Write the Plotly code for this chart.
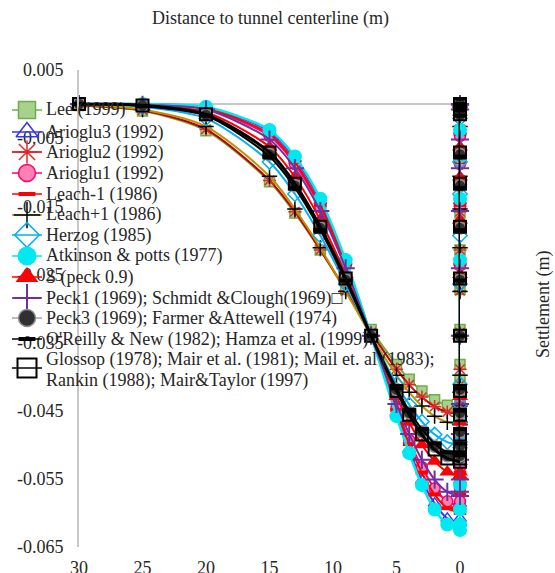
import plotly.graph_objects as go

W, H = 555, 573

# ---------------- data ----------------
distance = [30, 25, 20, 15, 13, 11, 9, 7, 5, 4, 3, 2, 1, 0]

lee_1999 = [-0.0002, -0.0010, -0.0039, -0.0114, -0.0160, -0.0214, -0.0272, -0.0331, -0.0382, -0.0404, -0.0421, -0.0434, -0.0442, -0.0445]
arioglu3 = [0.0, -0.0000, -0.0005, -0.0040, -0.0080, -0.0142, -0.0231, -0.0340, -0.0454, -0.0507, -0.0552, -0.0586, -0.0608, -0.0615]
arioglu2 = [-0.0002, -0.0009, -0.0037, -0.0112, -0.0158, -0.0214, -0.0274, -0.0335, -0.0389, -0.0412, -0.0430, -0.0444, -0.0452, -0.0455]
arioglu1 = [0.0, -0.0001, -0.0007, -0.0047, -0.0088, -0.0151, -0.0237, -0.0340, -0.0445, -0.0493, -0.0533, -0.0564, -0.0583, -0.0590]
leach_m1 = [0.0, -0.0000, -0.0006, -0.0044, -0.0085, -0.0148, -0.0235, -0.0340, -0.0449, -0.0499, -0.0541, -0.0573, -0.0593, -0.0600]
leach_p1 = [-0.0001, -0.0008, -0.0033, -0.0106, -0.0154, -0.0211, -0.0275, -0.0340, -0.0398, -0.0423, -0.0443, -0.0458, -0.0467, -0.0470]
herzog = [0.0, -0.0004, -0.0021, -0.0085, -0.0132, -0.0193, -0.0264, -0.0340, -0.0411, -0.0441, -0.0466, -0.0485, -0.0496, -0.0500]
atkinson = [0.0, -0.0000, -0.0004, -0.0038, -0.0077, -0.0139, -0.0229, -0.0340, -0.0458, -0.0512, -0.0559, -0.0595, -0.0617, -0.0625]
s_peck09 = [0.0, -0.0001, -0.0012, -0.0063, -0.0107, -0.0170, -0.0250, -0.0340, -0.0429, -0.0467, -0.0500, -0.0524, -0.0540, -0.0545]
peck1 = [0.0, -0.0001, -0.0008, -0.0052, -0.0094, -0.0157, -0.0241, -0.0340, -0.0440, -0.0484, -0.0522, -0.0551, -0.0569, -0.0575]
peck3 = [0.0, -0.0002, -0.0016, -0.0074, -0.0120, -0.0182, -0.0258, -0.0340, -0.0419, -0.0453, -0.0481, -0.0502, -0.0516, -0.0520]
oreilly = [0.0, -0.0003, -0.0017, -0.0077, -0.0123, -0.0185, -0.0259, -0.0340, -0.0417, -0.0450, -0.0477, -0.0498, -0.0511, -0.0515]
glossop = [0.0, -0.0002, -0.0015, -0.0071, -0.0117, -0.0180, -0.0256, -0.0340, -0.0421, -0.0456, -0.0485, -0.0507, -0.0520, -0.0525]

series_names = [
    "Lee (1999)",
    "Arioglu3 (1992)",
    "Arioglu2 (1992)",
    "Arioglu1 (1992)",
    "Leach-1 (1986)",
    "Leach+1 (1986)",
    "Herzog (1985)",
    "Atkinson & potts (1977)",
    "S (peck 0.9)",
    "Peck1 (1969); Schmidt &Clough(1969)\u25a1",
    "Peck3 (1969); Farmer &Attewell (1974)",
    "O'Reilly & New (1982); Hamza et al. (1999)",
    "Glossop (1978); Mair et al. (1981); Mail et. al (1983);|Rankin (1988); Mair&Taylor (1997)",
]
series_values = [lee_1999, arioglu3, arioglu2, arioglu1, leach_m1, leach_p1, herzog,
                 atkinson, s_peck09, peck1, peck3, oreilly, glossop]

y_tickvals = [0.005, -0.005, -0.015, -0.025, -0.035, -0.045, -0.055, -0.065]
y_ticktext = ["0.005", "-0.005", "-0.015", "-0.025", "-0.035", "-0.045", "-0.055", "-0.065"]
x_tickvals = [30, 25, 20, 15, 10, 5, 0]
x_ticktext = ["30", "25", "20", "15", "10", "5", "0"]

# ---------------- styles ----------------
styles = [
    dict(lc="#70AD47", lw=2, sym="square", mc="#A9D18E", ml="#70AD47", mw=1.5, ms=10, lms=17),
    dict(lc="#3333FF", lw=2, sym="triangle-up-open", mc="#3333FF", ml="#3333FF", mw=1.5, ms=11, lms=19),
    dict(lc="#C00000", lw=2, sym="asterisk-open", mc="#E02828", ml="#E02828", mw=1.5, ms=11, lms=19),
    dict(lc="#FF0066", lw=2, sym="circle", mc="#FF80B3", ml="#FF0066", mw=1.5, ms=11, lms=17),
    dict(lc="#FF0000", lw=2, sym="line-ew-open", mc="#FF0000", ml="#FF0000", mw=4, ms=9, lms=12),
    dict(lc="#BF9000", lw=2, sym="cross-thin-open", mc="#000000", ml="#000000", mw=1.5, ms=11, lms=19),
    dict(lc="#00B0F0", lw=2, sym="diamond-open", mc="#00B0F0", ml="#00B0F0", mw=1.5, ms=11, lms=19),
    dict(lc="#00E8F0", lw=2.5, sym="circle", mc="#00E8F0", ml="#00E8F0", mw=0, ms=14, lms=19),
    dict(lc="#FF0000", lw=2, sym="triangle-up", mc="#FF0000", ml="#FF0000", mw=0, ms=14, lms=20),
    dict(lc="#7030A0", lw=2, sym="cross-thin-open", mc="#7030A0", ml="#7030A0", mw=2, ms=13, lms=20),
    dict(lc="#A6A6A6", lw=2, sym="circle", mc="#303030", ml="#909090", mw=1.5, ms=12, lms=17),
    dict(lc="#000000", lw=2, sym="line-ew-open", mc="#000000", ml="#000000", mw=4, ms=10, lms=12),
    dict(lc="#000000", lw=3, sym="square-open", mc="#000000", ml="#000000", mw=2, ms=12, lms=19),
]

FONT = "Liberation Serif, Times New Roman, serif"
TXT = "#262626"

fig = go.Figure()

for vals, st in zip(series_values, styles):
    marker = dict(symbol=st["sym"], size=st["ms"], color=st["mc"],
                  line=dict(color=st["ml"], width=st["mw"]))
    # left half of the trough
    fig.add_trace(go.Scatter(
        x=distance, y=vals, mode="lines+markers",
        line=dict(color=st["lc"], width=st["lw"], shape="spline", smoothing=0.8),
        marker=marker, cliponaxis=False, showlegend=False, hoverinfo="skip",
        xaxis="x", yaxis="y"))
    # right half plotted on the centreline (blank distances)
    mirror = vals[-2::-1]
    fig.add_trace(go.Scatter(
        x=[0] * len(mirror), y=mirror, mode="lines+markers",
        line=dict(color=st["lc"], width=st["lw"]),
        marker=marker, cliponaxis=False, showlegend=False, hoverinfo="skip",
        xaxis="x", yaxis="y"))

# ---------------- hand-drawn legend (pixel layout) ----------------
row_y = [110, 132, 152, 173, 194, 215, 235, 256, 277, 298, 318, 339, 368]
annotations = []
for i, (name, st) in enumerate(zip(series_names, styles)):
    ry = row_y[i]
    fig.add_trace(go.Scatter(
        x=[12, 42], y=[ry, ry], mode="lines",
        line=dict(color=st["lc"], width=1.5), cliponaxis=False,
        showlegend=False, hoverinfo="skip", xaxis="x2", yaxis="y2"))
    fig.add_trace(go.Scatter(
        x=[27], y=[ry], mode="markers",
        marker=dict(symbol=st["sym"], size=st["lms"], color=st["mc"],
                    line=dict(color=st["ml"], width=st["mw"])),
        cliponaxis=False, showlegend=False, hoverinfo="skip",
        xaxis="x2", yaxis="y2"))
    lines = name.split("|")
    if len(lines) == 1:
        ys = [ry]
    else:
        ys = [ry - 9, ry + 12]
    for t, yy in zip(lines, ys):
        annotations.append(dict(
            x=44 / W, y=1 - yy / H, xref="paper", yref="paper",
            xanchor="left", yanchor="middle", text=t, showarrow=False,
            font=dict(family=FONT, size=18, color=TXT)))

annotations.append(dict(
    x=270 / W, y=1 - 18 / H, xref="paper", yref="paper",
    xanchor="center", yanchor="middle", text="Distance to tunnel centerline (m)",
    showarrow=False, font=dict(family=FONT, size=18, color=TXT)))
annotations.append(dict(
    x=543 / W, y=1 - 305 / H, xref="paper", yref="paper",
    xanchor="center", yanchor="middle", text="Settlement (m)", textangle=-90,
    showarrow=False, font=dict(family=FONT, size=18, color=TXT)))

fig.update_layout(
    width=W, height=H, autosize=False,
    margin=dict(l=0, r=0, t=0, b=0, pad=0, autoexpand=False),
    paper_bgcolor="white", plot_bgcolor="rgba(0,0,0,0)",
    showlegend=False,
    font=dict(family=FONT, size=18, color=TXT),
    xaxis=dict(domain=[79 / W, 460 / W], range=[30, 0], anchor="y",
               tickvals=x_tickvals, ticktext=x_ticktext, showgrid=False,
               zeroline=False, showline=False, ticks="", automargin=False,
               ticklabelstandoff=8,
               tickfont=dict(family=FONT, size=18, color=TXT)),
    yaxis=dict(domain=[26 / H, 503 / H], range=[-0.065, 0.005], anchor="x",
               tickvals=y_tickvals, ticktext=y_ticktext, showgrid=False,
               zeroline=True, zerolinecolor="#C8C8C8", zerolinewidth=2,
               showline=True, linecolor="#C8C8C8", linewidth=2, ticks="",
               automargin=False, ticklabelstandoff=10,
               tickfont=dict(family=FONT, size=18, color=TXT)),
    xaxis2=dict(domain=[0, 1], range=[0, W], anchor="y2", visible=False),
    yaxis2=dict(domain=[0, 1], range=[H, 0], anchor="x2", visible=False),
    annotations=annotations,
)

fig.write_html("out.html")
